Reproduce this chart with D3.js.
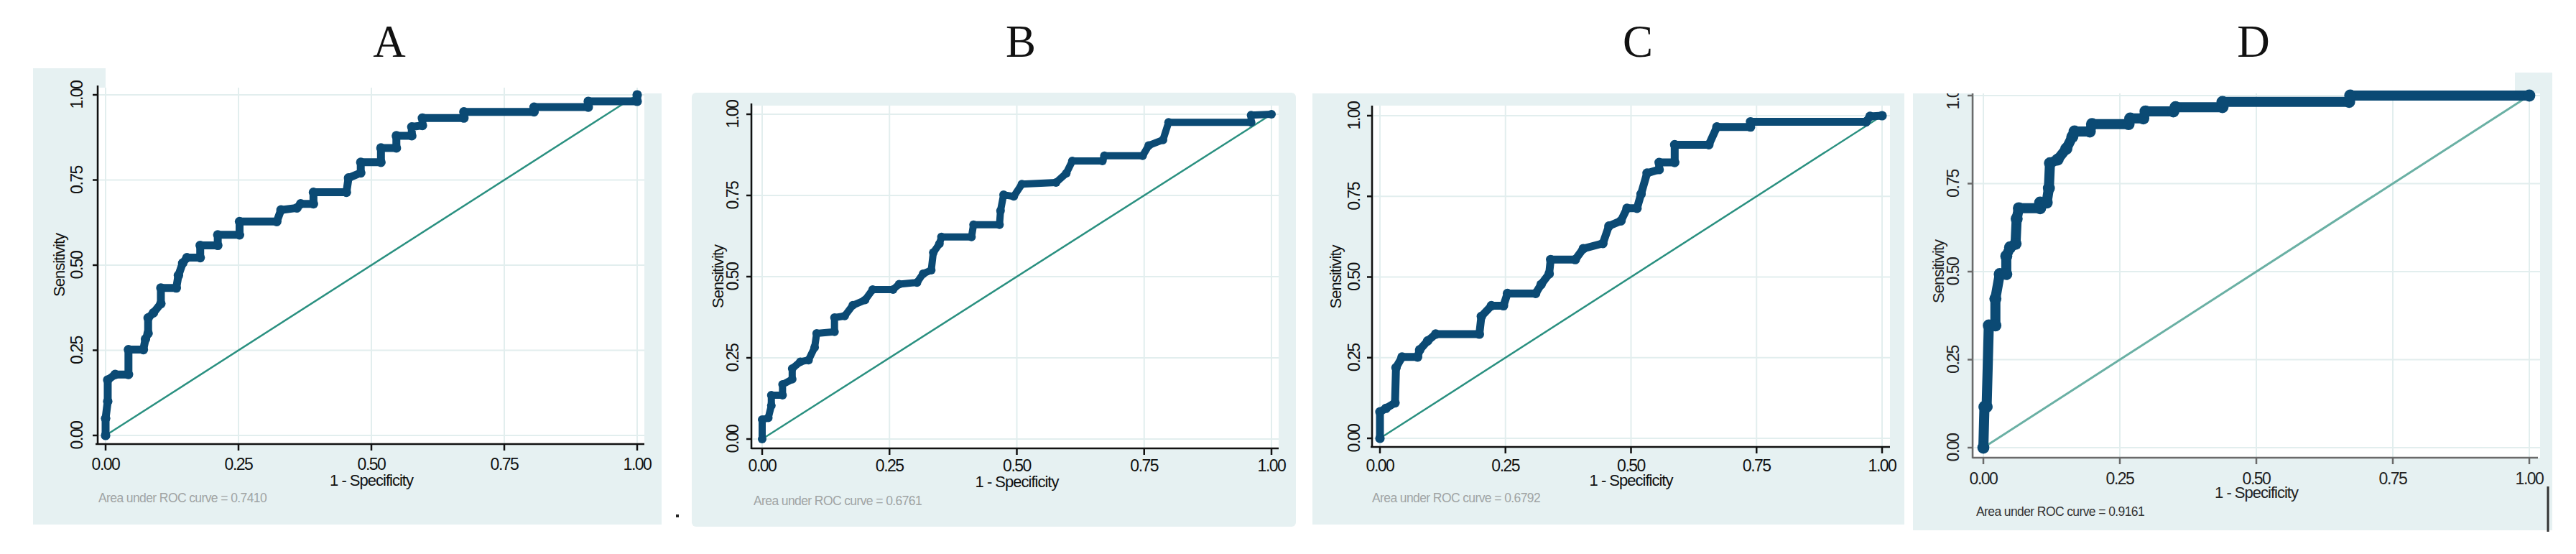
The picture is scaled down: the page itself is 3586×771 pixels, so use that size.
<!DOCTYPE html>
<html><head><meta charset="utf-8">
<script src="https://cdn.jsdelivr.net/npm/d3@7"></script>
<style>body{margin:0;background:#fff}svg{display:block}</style>
</head><body>
<svg id="c" width="3586" height="771"></svg>
<script>
// ---------- data ----------
const panelLabels = ["A", "B", "C", "D"];
const aucTexts = [
  "Area under ROC curve = 0.7410",
  "Area under ROC curve = 0.6761",
  "Area under ROC curve = 0.6792",
  "Area under ROC curve = 0.9161"
];
const tickValues = [0, 0.25, 0.5, 0.75, 1];
const tickLabels = ["0.00", "0.25", "0.50", "0.75", "1.00"];
const xTitle = "1 - Specificity";
const yTitle = "Sensitivity";

// [1 - specificity, sensitivity]
const rocA = [[0,0],[0,0.05],[0.004,0.10],[0.004,0.163],[0.018,0.179],[0.043,0.179],[0.043,0.252],[0.071,0.252],[0.075,0.283],[0.08,0.30],[0.08,0.345],[0.09,0.36],[0.104,0.387],[0.104,0.433],[0.133,0.433],[0.137,0.47],[0.145,0.506],[0.153,0.522],[0.178,0.522],[0.178,0.558],[0.211,0.558],[0.211,0.589],[0.252,0.589],[0.252,0.628],[0.322,0.628],[0.33,0.662],[0.36,0.668],[0.367,0.68],[0.391,0.68],[0.391,0.714],[0.453,0.714],[0.457,0.756],[0.48,0.771],[0.48,0.802],[0.518,0.802],[0.518,0.844],[0.547,0.844],[0.547,0.88],[0.576,0.88],[0.576,0.906],[0.596,0.91],[0.596,0.932],[0.674,0.932],[0.674,0.95],[0.806,0.95],[0.806,0.964],[0.908,0.964],[0.908,0.981],[1,0.981],[1,1]];
const rocB = [[0,0],[0,0.06],[0.012,0.065],[0.018,0.103],[0.018,0.135],[0.04,0.135],[0.04,0.168],[0.059,0.184],[0.059,0.217],[0.075,0.238],[0.091,0.243],[0.103,0.282],[0.107,0.325],[0.142,0.33],[0.142,0.374],[0.162,0.379],[0.178,0.412],[0.202,0.428],[0.217,0.46],[0.257,0.46],[0.269,0.477],[0.304,0.482],[0.316,0.509],[0.332,0.52],[0.336,0.574],[0.348,0.601],[0.352,0.622],[0.411,0.622],[0.415,0.66],[0.466,0.66],[0.468,0.703],[0.474,0.752],[0.494,0.747],[0.51,0.785],[0.577,0.79],[0.597,0.818],[0.609,0.856],[0.668,0.856],[0.672,0.872],[0.747,0.872],[0.759,0.904],[0.787,0.921],[0.798,0.975],[0.96,0.975],[0.96,0.997],[1,1]];
const rocC = [[0,0],[0,0.082],[0.012,0.093],[0.03,0.11],[0.032,0.219],[0.044,0.252],[0.075,0.252],[0.079,0.274],[0.095,0.302],[0.111,0.323],[0.198,0.323],[0.202,0.378],[0.222,0.411],[0.246,0.411],[0.254,0.449],[0.31,0.449],[0.321,0.477],[0.337,0.51],[0.34,0.554],[0.389,0.554],[0.405,0.588],[0.444,0.604],[0.456,0.658],[0.48,0.674],[0.492,0.713],[0.512,0.713],[0.52,0.757],[0.532,0.822],[0.556,0.833],[0.556,0.855],[0.587,0.855],[0.587,0.91],[0.655,0.91],[0.671,0.965],[0.738,0.965],[0.738,0.981],[0.968,0.981],[0.976,0.998],[1,1]];
const rocD = [[0,0],[0.002,0.116],[0.006,0.116],[0.01,0.347],[0.022,0.347],[0.022,0.423],[0.03,0.493],[0.042,0.493],[0.042,0.544],[0.049,0.569],[0.059,0.579],[0.061,0.65],[0.065,0.68],[0.104,0.68],[0.104,0.696],[0.116,0.696],[0.12,0.737],[0.122,0.808],[0.136,0.818],[0.152,0.849],[0.163,0.883],[0.167,0.898],[0.195,0.898],[0.199,0.919],[0.266,0.919],[0.269,0.935],[0.293,0.935],[0.297,0.955],[0.348,0.955],[0.352,0.967],[0.438,0.967],[0.438,0.982],[0.67,0.982],[0.672,1],[1,1]];
const rocSeries = [rocA, rocB, rocC, rocD];

// ---------- layout ----------
const layout = [
  {tx:542, bg:[46,130,921,730], notch:[46,95,147,130], plot:[138,122,897,618], axY:136, axX:618, axYtop:119, axXleft:133, axXright:897,
   x:[147,887], y:[606,132], ylab:107, ytit:82, xlabB:654, xtitB:676, areaX:137, areaB:699, lw:11, axisCol:"#111", textCol:"#111", areaCol:"#a0a4a4", diag:"#2a9080", diagW:2.5},
  {tx:1421, bg:[963,129,1804,733], notch:null, plot:[1048,147,1780,624], axY:1046, axX:624, axYtop:144, axXleft:1046, axXright:1780,
   x:[1061,1770], y:[611,159], ylab:1020, ytit:999, xlabB:656, xtitB:678, areaX:1049, areaB:703, lw:10, axisCol:"#111", textCol:"#111", areaCol:"#a0a4a4", diag:"#2a9080", diagW:2.5},
  {tx:2280, bg:[1827,130,2651,730], notch:null, plot:[1912,147,2631,622], axY:1910, axX:622, axYtop:147, axXleft:1908, axXright:2631,
   x:[1921,2620], y:[610,161], ylab:1885, ytit:1859, xlabB:656, xtitB:676, areaX:1910, areaB:699, lw:11, axisCol:"#111", textCol:"#111", areaCol:"#a0a4a4", diag:"#2a9080", diagW:2.5},
  {tx:3137, bg:[2663,130,3553,738], notch:[3501,101,3553,130], plot:[2748,130,3536,637], axY:2746, axX:637, axYtop:130, axXleft:2746, axXright:3533,
   x:[2761,3521], y:[623,133], ylab:2719, ytit:2698, xlabB:674, xtitB:693, areaX:2751, areaB:718, lw:14, axisCol:"#6a6a6a", textCol:"#222", areaCol:"#333", diag:"#6ab0a4", diagW:3}
];

const svg = d3.select("#c");
const defs = svg.append("defs");
const curveColor = "#0b4a74";
const bgColor = "#e6f1f2";
const gridColor = "#e2eeee";

layout.forEach((L, i) => {
  const g = svg.append("g");
  const xs = d3.scaleLinear().domain([0,1]).range(L.x);
  const ys = d3.scaleLinear().domain([0,1]).range(L.y);

  // title letter
  g.append("text").attr("x", L.tx).attr("y", 79).attr("text-anchor","middle")
    .attr("font-family","'Liberation Serif', 'Times New Roman', serif").attr("font-size", 63)
    .attr("fill","#111").text(panelLabels[i]);

  // background
  g.append("rect").attr("x", L.bg[0]).attr("y", L.bg[1]).attr("width", L.bg[2]-L.bg[0]).attr("height", L.bg[3]-L.bg[1])
    .attr("rx", i===1 ? 6 : 0).attr("fill", bgColor);
  if (L.notch) g.append("rect").attr("x", L.notch[0]).attr("y", L.notch[1]).attr("width", L.notch[2]-L.notch[0]).attr("height", L.notch[3]-L.notch[1]).attr("fill", bgColor);
  if (i === 0) { // white above plot region
    g.append("rect").attr("x", 147).attr("y", 95).attr("width", 774).attr("height", 35).attr("fill", "#fff");
  }
  // plot region
  g.append("rect").attr("x", L.plot[0]).attr("y", L.plot[1]).attr("width", L.plot[2]-L.plot[0]).attr("height", L.plot[3]-L.plot[1]).attr("fill", "#fff");

  // grid
  g.selectAll(".gx").data(tickValues).enter().append("line")
    .attr("x1", d=>xs(d)).attr("x2", d=>xs(d)).attr("y1", L.plot[1]).attr("y2", L.axX)
    .attr("stroke", gridColor).attr("stroke-width", 2);
  g.selectAll(".gy").data(tickValues).enter().append("line")
    .attr("y1", d=>ys(d)).attr("y2", d=>ys(d)).attr("x1", L.axY).attr("x2", L.plot[2])
    .attr("stroke", gridColor).attr("stroke-width", 2);

  // diagonal reference
  g.append("line").attr("x1", xs(0)).attr("y1", ys(0)).attr("x2", xs(1)).attr("y2", ys(1))
    .attr("stroke", L.diag).attr("stroke-width", L.diagW);

  // ROC curve
  const data = rocSeries[i];
  const line = d3.line().x(d=>xs(d[0])).y(d=>ys(d[1]));
  g.append("path").attr("d", line(data)).attr("fill","none").attr("stroke", curveColor)
    .attr("stroke-width", L.lw).attr("stroke-linejoin","round").attr("stroke-linecap","round");
  g.selectAll(".pt").data(data).enter().append("circle")
    .attr("cx", d=>xs(d[0])).attr("cy", d=>ys(d[1])).attr("r", L.lw*0.6).attr("fill", curveColor);

  // axes lines
  g.append("line").attr("x1", L.axY).attr("x2", L.axY).attr("y1", L.axYtop).attr("y2", L.axX+1)
    .attr("stroke", L.axisCol).attr("stroke-width", 2.5);
  g.append("line").attr("x1", L.axXleft).attr("x2", L.axXright).attr("y1", L.axX).attr("y2", L.axX)
    .attr("stroke", L.axisCol).attr("stroke-width", 2.5);

  // ticks
  g.selectAll(".tx").data(tickValues).enter().append("line")
    .attr("x1", d=>xs(d)).attr("x2", d=>xs(d)).attr("y1", L.axX).attr("y2", L.axX+9)
    .attr("stroke", L.axisCol).attr("stroke-width", 2.5);
  g.selectAll(".ty").data(tickValues).enter().append("line")
    .attr("y1", d=>ys(d)).attr("y2", d=>ys(d)).attr("x1", L.axY).attr("x2", L.axY-7)
    .attr("stroke", L.axisCol).attr("stroke-width", 2.5);

  const font = "'Liberation Sans', Arial, sans-serif";
  // x tick labels
  g.selectAll(".lx").data(tickValues).enter().append("text")
    .attr("x", d=>xs(d)).attr("y", L.xlabB).attr("text-anchor","middle")
    .attr("font-family", font).attr("font-size", 23).attr("letter-spacing", -1.5).attr("fill", L.textCol)
    .text((d,k)=>tickLabels[k]);
  // y tick labels (rotated), clipped to the background top
  const cid = "clip"+i;
  defs.append("clipPath").attr("id", cid).append("rect")
    .attr("x", L.bg[0]).attr("y", L.bg[1]).attr("width", L.bg[2]-L.bg[0]).attr("height", L.bg[3]-L.bg[1]);
  const yl = g.append("g").attr("clip-path", i===3 ? `url(#${cid})` : null);
  yl.selectAll(".ly").data(tickValues).enter().append("text")
    .attr("transform", d=>`translate(${L.ylab + 8},${ys(d)}) rotate(-90)`).attr("text-anchor","middle")
    .attr("font-family", font).attr("font-size", 23).attr("letter-spacing", -1.5).attr("fill", L.textCol)
    .text((d,k)=>tickLabels[k]);
  // axis titles
  g.append("text").attr("x", (L.x[0]+L.x[1])/2).attr("y", L.xtitB).attr("text-anchor","middle")
    .attr("font-family", font).attr("font-size", 22).attr("letter-spacing", -1).attr("fill", L.textCol).text(xTitle);
  g.append("text").attr("transform", `translate(${L.ytit + 8},${(L.y[0]+L.y[1])/2}) rotate(-90)`).attr("text-anchor","middle")
    .attr("font-family", font).attr("font-size", 22).attr("letter-spacing", -1).attr("fill", L.textCol).text(yTitle);
  // AUC note
  g.append("text").attr("x", L.areaX).attr("y", L.areaB)
    .attr("font-family", font).attr("font-size", 17.5).attr("letter-spacing", -0.6).attr("fill", L.areaCol).text(aucTexts[i]);
});

// stray marks from the source composite
svg.append("rect").attr("x", 941).attr("y", 716).attr("width", 4).attr("height", 4).attr("fill", "#222");
svg.append("line").attr("x1", 3547).attr("x2", 3547).attr("y1", 677).attr("y2", 740).attr("stroke", "#333").attr("stroke-width", 3);
</script>
</body></html>
